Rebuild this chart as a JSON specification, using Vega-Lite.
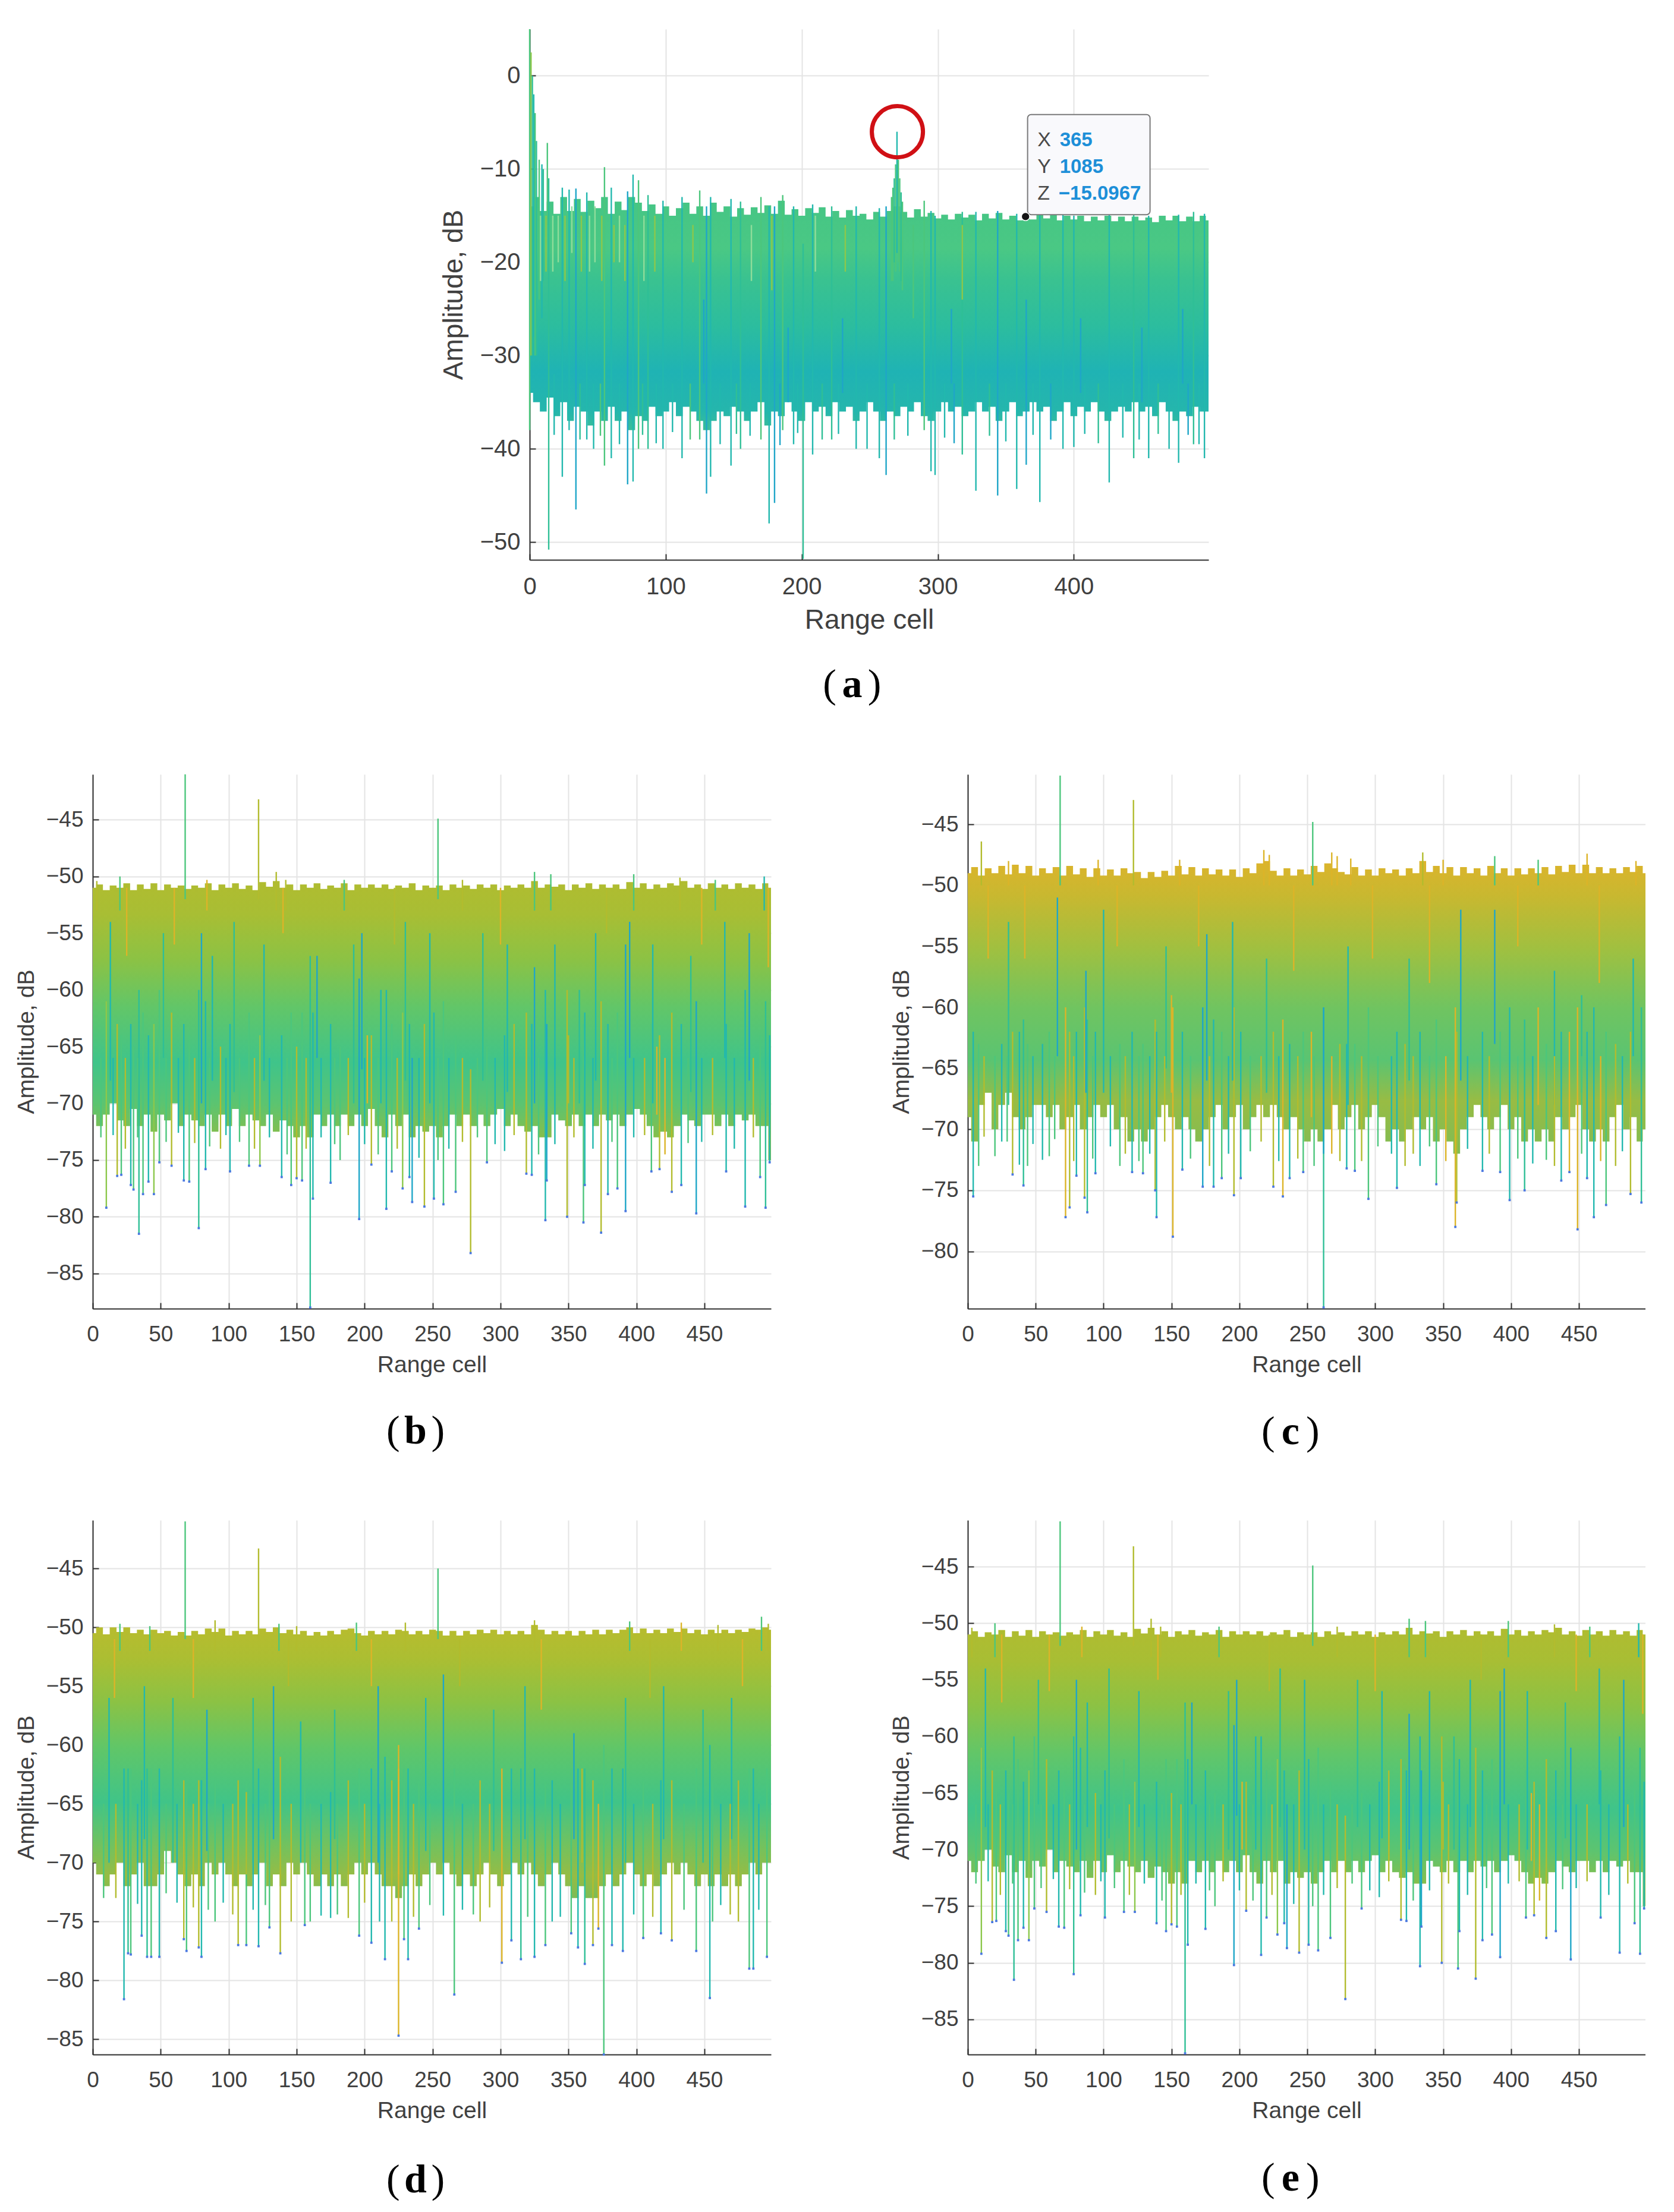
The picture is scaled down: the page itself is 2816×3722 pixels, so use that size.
{"$schema":"https://vega.github.io/schema/vega-lite/v6.json","background":"white","padding":{"left":25,"top":47,"right":0,"bottom":0},
"config":{"view":{"stroke":null},"axis":{"grid":true,"gridColor":"#e4e4e4","gridWidth":2,"domainColor":"#303030","domainWidth":2,"tickColor":"#303030","tickWidth":2,"tickSize":-10,"labelFont":"Liberation Sans","titleFont":"Liberation Sans","labelColor":"#404040","titleColor":"#404040","titleFontWeight":"normal","labelFontSize":37,"titleFontSize":39,"labelOverlap":false,"labelFlush":false},"axisX":{"labelPadding":35,"titlePadding":14},"axisY":{"labelPadding":26,"titlePadding":13}},
"datasets":{
"aE":[{"x":0,"t":-14,"b":-34},{"x":5,"t":-13,"b":-35},{"x":10,"t":-14.5,"b":-36},{"x":15,"t":-13.5,"b":-34.5},{"x":20,"t":-14.8,"b":-36.5},{"x":25,"t":-13,"b":-35},{"x":30,"t":-14.5,"b":-37},{"x":35,"t":-13.2,"b":-35.5},{"x":40,"t":-14.6,"b":-36},{"x":45,"t":-13.4,"b":-37.5},{"x":50,"t":-14.2,"b":-36},{"x":55,"t":-13,"b":-37},{"x":60,"t":-14.8,"b":-35.5},{"x":65,"t":-13.5,"b":-37},{"x":70,"t":-14.4,"b":-36},{"x":75,"t":-13,"b":-38},{"x":80,"t":-13.6,"b":-36.5},{"x":85,"t":-14.5,"b":-37},{"x":90,"t":-13.8,"b":-35.5},{"x":95,"t":-14.8,"b":-36.5},{"x":100,"t":-14,"b":-36},{"x":105,"t":-15,"b":-35},{"x":110,"t":-14.2,"b":-36.5},{"x":115,"t":-13.6,"b":-35.5},{"x":120,"t":-14.8,"b":-36},{"x":125,"t":-14,"b":-37},{"x":130,"t":-15,"b":-38},{"x":135,"t":-13.6,"b":-37},{"x":140,"t":-14.6,"b":-36},{"x":145,"t":-14,"b":-36.5},{"x":150,"t":-15.1,"b":-35.5},{"x":155,"t":-14.2,"b":-36},{"x":160,"t":-14.9,"b":-37},{"x":165,"t":-14.1,"b":-36},{"x":170,"t":-14.7,"b":-35},{"x":175,"t":-13.9,"b":-37.5},{"x":180,"t":-14.8,"b":-36},{"x":185,"t":-13.4,"b":-36.5},{"x":190,"t":-14.9,"b":-35},{"x":195,"t":-14.3,"b":-36},{"x":200,"t":-15,"b":-37},{"x":205,"t":-14.2,"b":-35},{"x":210,"t":-14.7,"b":-36},{"x":215,"t":-14.1,"b":-35.5},{"x":220,"t":-15.1,"b":-36.5},{"x":225,"t":-14.5,"b":-35},{"x":230,"t":-15.2,"b":-36},{"x":235,"t":-14.4,"b":-35.5},{"x":240,"t":-15,"b":-37},{"x":245,"t":-14.8,"b":-36},{"x":250,"t":-15.4,"b":-35},{"x":255,"t":-14.6,"b":-36},{"x":260,"t":-15.1,"b":-37},{"x":265,"t":-14.5,"b":-36},{"x":270,"t":-14,"b":-36.5},{"x":275,"t":-14.6,"b":-35.5},{"x":280,"t":-15.2,"b":-36},{"x":285,"t":-14.3,"b":-35},{"x":290,"t":-15.1,"b":-36.5},{"x":295,"t":-14.7,"b":-37},{"x":300,"t":-15.3,"b":-36},{"x":305,"t":-14.9,"b":-35},{"x":310,"t":-15.4,"b":-36},{"x":315,"t":-14.8,"b":-35.5},{"x":320,"t":-15.2,"b":-36.5},{"x":325,"t":-14.9,"b":-36},{"x":330,"t":-15.5,"b":-35},{"x":335,"t":-14.8,"b":-36},{"x":340,"t":-15.3,"b":-35.5},{"x":345,"t":-14.7,"b":-37},{"x":350,"t":-15.4,"b":-36},{"x":355,"t":-15,"b":-35},{"x":360,"t":-15.5,"b":-36.5},{"x":365,"t":-15.1,"b":-36},{"x":370,"t":-15.4,"b":-35},{"x":375,"t":-14.9,"b":-36},{"x":380,"t":-15.3,"b":-35.5},{"x":385,"t":-14.8,"b":-37},{"x":390,"t":-15.5,"b":-36},{"x":395,"t":-15,"b":-35},{"x":400,"t":-15.4,"b":-36.5},{"x":405,"t":-15,"b":-35.5},{"x":410,"t":-15.6,"b":-36},{"x":415,"t":-15.1,"b":-35},{"x":420,"t":-15.5,"b":-36},{"x":425,"t":-15,"b":-37},{"x":430,"t":-15.6,"b":-36},{"x":435,"t":-15.1,"b":-35.5},{"x":440,"t":-15.6,"b":-36},{"x":445,"t":-15.1,"b":-35},{"x":450,"t":-15.5,"b":-36},{"x":455,"t":-15.2,"b":-35.5},{"x":460,"t":-15.7,"b":-36.5},{"x":465,"t":-15,"b":-35},{"x":470,"t":-15.5,"b":-36},{"x":475,"t":-15,"b":-37},{"x":480,"t":-15.6,"b":-36},{"x":485,"t":-15.1,"b":-36.5},{"x":490,"t":-15.6,"b":-35.5},{"x":495,"t":-15,"b":-36},{"x":499,"t":-15.5,"b":-36}],
"aS":[{"x":0,"t":5,"b":-38,"c":"g"},{"x":1,"t":2.5,"b":-30,"c":"l"},{"x":2,"t":0,"b":-30,"c":"m"},{"x":3,"t":-2,"b":-28,"c":"t"},{"x":4,"t":-4,"b":-30,"c":"g"},{"x":5,"t":-7,"b":-30,"c":"m"},{"x":7,"t":-9,"b":-24,"c":"g"},{"x":9,"t":-9.5,"b":-26,"c":"t"},{"x":10,"t":-10,"b":-22,"c":"m"},{"x":13,"t":-7.2,"b":-16,"c":"g"},{"x":14,"t":-11,"b":-50.8,"c":"m"},{"x":24,"t":-12,"b":-43,"c":"t"},{"x":29,"t":-12.2,"b":-38,"c":"t"},{"x":34,"t":-12.1,"b":-46.5,"c":"b"},{"x":42,"t":-12.5,"b":-39,"c":"t"},{"x":55,"t":-9.8,"b":-41.8,"c":"g"},{"x":60,"t":-12,"b":-41,"c":"t"},{"x":72,"t":-12.4,"b":-43.8,"c":"b"},{"x":76,"t":-10.6,"b":-43.5,"c":"t"},{"x":80,"t":-11.2,"b":-40,"c":"g"},{"x":87,"t":-12.8,"b":-40,"c":"m"},{"x":98,"t":-13.4,"b":-40,"c":"t"},{"x":112,"t":-13,"b":-41,"c":"t"},{"x":125,"t":-12.3,"b":-39,"c":"g"},{"x":130,"t":-14,"b":-44.8,"c":"b"},{"x":133,"t":-13,"b":-43,"c":"t"},{"x":148,"t":-13.2,"b":-41.8,"c":"t"},{"x":155,"t":-13.5,"b":-40,"c":"m"},{"x":170,"t":-13,"b":-39,"c":"g"},{"x":176,"t":-14,"b":-48,"c":"t"},{"x":180,"t":-14,"b":-45.8,"c":"b"},{"x":186,"t":-12.8,"b":-38,"c":"g"},{"x":194,"t":-14,"b":-39.5,"c":"t"},{"x":201,"t":-18,"b":-51.8,"c":"m"},{"x":208,"t":-13.8,"b":-40.6,"c":"t"},{"x":222,"t":-14,"b":-39,"c":"m"},{"x":240,"t":-14,"b":-40,"c":"t"},{"x":257,"t":-14.2,"b":-41,"c":"t"},{"x":262,"t":-14,"b":-42.8,"c":"b"},{"x":266,"t":-13,"b":-22,"c":"g"},{"x":267,"t":-12,"b":-22,"c":"g"},{"x":268,"t":-11,"b":-20,"c":"m"},{"x":269,"t":-9.5,"b":-21,"c":"g"},{"x":270,"t":-6,"b":-19,"c":"t"},{"x":271,"t":-9,"b":-20,"c":"g"},{"x":272,"t":-11,"b":-21,"c":"g"},{"x":273,"t":-12.5,"b":-22,"c":"m"},{"x":274,"t":-13.5,"b":-23,"c":"g"},{"x":290,"t":-13.4,"b":-38,"c":"g"},{"x":295,"t":-14.5,"b":-42.4,"c":"t"},{"x":298,"t":-15,"b":-42.8,"c":"t"},{"x":318,"t":-14.6,"b":-40.6,"c":"m"},{"x":328,"t":-14.6,"b":-44.5,"c":"t"},{"x":344,"t":-14.5,"b":-45,"c":"b"},{"x":358,"t":-14.8,"b":-44.3,"c":"t"},{"x":365,"t":-24,"b":-41.7,"c":"b"},{"x":375,"t":-14.8,"b":-45.7,"c":"t"},{"x":392,"t":-14.6,"b":-40,"c":"t"},{"x":400,"t":-15,"b":-39.8,"c":"t"},{"x":426,"t":-14.9,"b":-43.6,"c":"t"},{"x":444,"t":-14.7,"b":-41,"c":"m"},{"x":455,"t":-15,"b":-41,"c":"t"},{"x":477,"t":-14.9,"b":-41.5,"c":"t"},{"x":488,"t":-14.6,"b":-39.5,"c":"m"},{"x":496,"t":-14.8,"b":-41,"c":"t"},{"x":8,"t":-15,"b":-22,"c":"p"},{"x":12,"t":-15,"b":-21,"c":"l"},{"x":17,"t":-15,"b":-21,"c":"p"},{"x":21,"t":-15,"b":-20,"c":"p"},{"x":26,"t":-15,"b":-22,"c":"l"},{"x":31,"t":-14,"b":-19,"c":"p"},{"x":38,"t":-15,"b":-21,"c":"l"},{"x":44,"t":-15,"b":-21,"c":"p"},{"x":48,"t":-14,"b":-20,"c":"p"},{"x":53,"t":-15,"b":-22,"c":"l"},{"x":62,"t":-16,"b":-20,"c":"l"},{"x":66,"t":-15,"b":-20,"c":"p"},{"x":70,"t":-16,"b":-22,"c":"l"},{"x":84,"t":-15,"b":-22,"c":"p"},{"x":92,"t":-15,"b":-21,"c":"l"},{"x":120,"t":-16,"b":-20,"c":"l"},{"x":163,"t":-16,"b":-22,"c":"p"},{"x":178,"t":-15,"b":-23,"c":"l"},{"x":210,"t":-15,"b":-21,"c":"p"},{"x":232,"t":-16,"b":-21,"c":"l"},{"x":282,"t":-16,"b":-26,"c":"g"},{"x":318,"t":-16,"b":-24,"c":"l"},{"x":128,"t":-24,"b":-33,"c":"b"},{"x":190,"t":-27,"b":-35,"c":"b"},{"x":230,"t":-26,"b":-34,"c":"b"},{"x":310,"t":-25,"b":-33,"c":"b"},{"x":365,"t":-28,"b":-36,"c":"b"},{"x":405,"t":-26,"b":-34,"c":"b"},{"x":450,"t":-27,"b":-35,"c":"b"},{"x":480,"t":-25,"b":-33,"c":"b"},{"x":18,"t":-32,"b":-38.5,"c":"t"},{"x":37,"t":-33,"b":-39,"c":"m"},{"x":47,"t":-33,"b":-40,"c":"t"},{"x":52,"t":-33,"b":-38.6,"c":"g"},{"x":66,"t":-33,"b":-39.5,"c":"t"},{"x":83,"t":-33,"b":-38.5,"c":"m"},{"x":93,"t":-33,"b":-39.4,"c":"t"},{"x":105,"t":-33,"b":-38.2,"c":"t"},{"x":118,"t":-33,"b":-39,"c":"g"},{"x":140,"t":-33,"b":-39.5,"c":"t"},{"x":152,"t":-33,"b":-38.4,"c":"m"},{"x":162,"t":-33,"b":-38.6,"c":"t"},{"x":184,"t":-33,"b":-39.6,"c":"b"},{"x":197,"t":-33,"b":-38.3,"c":"t"},{"x":215,"t":-33,"b":-39,"c":"m"},{"x":227,"t":-33,"b":-38.4,"c":"t"},{"x":248,"t":-33,"b":-40,"c":"t"},{"x":268,"t":-33,"b":-39,"c":"m"},{"x":278,"t":-33,"b":-38.6,"c":"t"},{"x":305,"t":-33,"b":-38.8,"c":"t"},{"x":312,"t":-33,"b":-39.4,"c":"b"},{"x":338,"t":-33,"b":-38.6,"c":"m"},{"x":350,"t":-33,"b":-39.2,"c":"t"},{"x":370,"t":-33,"b":-38.5,"c":"t"},{"x":383,"t":-33,"b":-39,"c":"b"},{"x":408,"t":-33,"b":-38.4,"c":"t"},{"x":418,"t":-33,"b":-39.4,"c":"m"},{"x":436,"t":-33,"b":-38.8,"c":"t"},{"x":448,"t":-33,"b":-39,"c":"t"},{"x":462,"t":-33,"b":-38.4,"c":"m"},{"x":470,"t":-33,"b":-40,"c":"t"},{"x":484,"t":-33,"b":-38.5,"c":"b"},{"x":492,"t":-33,"b":-39.5,"c":"t"}],
"bE":[{"x":0,"t":-51,"b":-71},{"x":5,"t":-50.7,"b":-72},{"x":10,"t":-51.2,"b":-71},{"x":15,"t":-50.8,"b":-70},{"x":20,"t":-51,"b":-71.5},{"x":25,"t":-50.6,"b":-72},{"x":30,"t":-51.2,"b":-70.5},{"x":35,"t":-50.7,"b":-72},{"x":40,"t":-51.1,"b":-71},{"x":45,"t":-50.6,"b":-72.5},{"x":50,"t":-51.2,"b":-71},{"x":55,"t":-50.7,"b":-71.5},{"x":60,"t":-51,"b":-70},{"x":65,"t":-50.8,"b":-72},{"x":70,"t":-51.1,"b":-71},{"x":75,"t":-50.8,"b":-71.5},{"x":80,"t":-51,"b":-72},{"x":85,"t":-50.6,"b":-71},{"x":90,"t":-51.2,"b":-72.5},{"x":95,"t":-50.7,"b":-71},{"x":100,"t":-51,"b":-72},{"x":105,"t":-50.6,"b":-70.5},{"x":110,"t":-51.1,"b":-72},{"x":115,"t":-50.8,"b":-71},{"x":120,"t":-51.2,"b":-71.5},{"x":125,"t":-50.5,"b":-72},{"x":130,"t":-50.9,"b":-71},{"x":135,"t":-50.4,"b":-72.5},{"x":140,"t":-51,"b":-71.5},{"x":145,"t":-50.7,"b":-72},{"x":150,"t":-51.2,"b":-73},{"x":155,"t":-50.7,"b":-72},{"x":160,"t":-51,"b":-73},{"x":165,"t":-50.6,"b":-71},{"x":170,"t":-51.1,"b":-72},{"x":175,"t":-50.8,"b":-71},{"x":180,"t":-51,"b":-72},{"x":185,"t":-50.6,"b":-71},{"x":190,"t":-51.2,"b":-72},{"x":195,"t":-50.7,"b":-71},{"x":200,"t":-51,"b":-72},{"x":205,"t":-50.7,"b":-70.5},{"x":210,"t":-51,"b":-72},{"x":215,"t":-50.7,"b":-73},{"x":220,"t":-51.1,"b":-71},{"x":225,"t":-50.8,"b":-72},{"x":230,"t":-51,"b":-71},{"x":235,"t":-50.6,"b":-73},{"x":240,"t":-51.2,"b":-72},{"x":245,"t":-50.8,"b":-72.5},{"x":250,"t":-51,"b":-72},{"x":255,"t":-50.8,"b":-73},{"x":260,"t":-51.2,"b":-72},{"x":265,"t":-50.7,"b":-71},{"x":270,"t":-51,"b":-72},{"x":275,"t":-50.8,"b":-71},{"x":280,"t":-51.1,"b":-72},{"x":285,"t":-50.7,"b":-71},{"x":290,"t":-51,"b":-72},{"x":295,"t":-50.7,"b":-71},{"x":300,"t":-51.2,"b":-70.5},{"x":305,"t":-50.8,"b":-72},{"x":310,"t":-51,"b":-71},{"x":315,"t":-50.7,"b":-72},{"x":320,"t":-51,"b":-72.5},{"x":325,"t":-50.4,"b":-72},{"x":330,"t":-51,"b":-73},{"x":335,"t":-50.7,"b":-73},{"x":340,"t":-50.9,"b":-71},{"x":345,"t":-50.7,"b":-71.5},{"x":350,"t":-51.2,"b":-72},{"x":355,"t":-50.7,"b":-71},{"x":360,"t":-51,"b":-72},{"x":365,"t":-50.6,"b":-71},{"x":370,"t":-51.1,"b":-72},{"x":375,"t":-50.7,"b":-71},{"x":380,"t":-51,"b":-71.5},{"x":385,"t":-50.7,"b":-71},{"x":390,"t":-51.1,"b":-72},{"x":395,"t":-50.5,"b":-71},{"x":400,"t":-51,"b":-70.5},{"x":405,"t":-50.6,"b":-71},{"x":410,"t":-51.1,"b":-72},{"x":415,"t":-50.7,"b":-73},{"x":420,"t":-51,"b":-72.5},{"x":425,"t":-50.6,"b":-73},{"x":430,"t":-50.8,"b":-72},{"x":435,"t":-50.4,"b":-71},{"x":440,"t":-51,"b":-71.5},{"x":445,"t":-50.7,"b":-72},{"x":450,"t":-51.1,"b":-71},{"x":455,"t":-50.6,"b":-71},{"x":460,"t":-51,"b":-72},{"x":465,"t":-50.7,"b":-71},{"x":470,"t":-51.1,"b":-72},{"x":475,"t":-50.6,"b":-71},{"x":480,"t":-51,"b":-71.5},{"x":485,"t":-50.7,"b":-71},{"x":490,"t":-51.1,"b":-72},{"x":495,"t":-50.6,"b":-72},{"x":499,"t":-51,"b":-75}],
"bS":[{"x":68,"t":-41,"b":-52,"c":"g"},{"x":122,"t":-43.2,"b":-52,"c":"o"},{"x":254,"t":-44.9,"b":-52,"c":"g"},{"x":135,"t":-49.6,"b":-53,"c":"o"},{"x":325,"t":-49.6,"b":-53,"c":"g"},{"x":337,"t":-49.8,"b":-53,"c":"g"},{"x":398,"t":-49.8,"b":-53,"c":"g"},{"x":494,"t":-50,"b":-53,"c":"t"},{"x":20,"t":-50,"b":-53,"c":"g"},{"x":432,"t":-50.1,"b":-53,"c":"o"},{"x":3,"t":-50.4,"b":-53,"c":"o"},{"x":84,"t":-50.3,"b":-53,"c":"y"},{"x":142,"t":-50.3,"b":-53,"c":"o"},{"x":185,"t":-50.3,"b":-53,"c":"g"},{"x":272,"t":-50.3,"b":-53,"c":"o"},{"x":458,"t":-50.3,"b":-53,"c":"g"},{"x":10,"t":-61,"b":-79.2,"c":"l"},{"x":18,"t":-63,"b":-76.4,"c":"o"},{"x":21,"t":-64,"b":-76.3,"c":"g"},{"x":28,"t":-63,"b":-77.2,"c":"t"},{"x":30,"t":-65,"b":-77.6,"c":"g"},{"x":34,"t":-60,"b":-81.5,"c":"m"},{"x":37,"t":-62,"b":-78,"c":"g"},{"x":41,"t":-64,"b":-76.9,"c":"t"},{"x":45,"t":-63,"b":-78,"c":"l"},{"x":49,"t":-60,"b":-75.2,"c":"g"},{"x":58,"t":-62,"b":-75.5,"c":"o"},{"x":67,"t":-63,"b":-76.8,"c":"t"},{"x":71,"t":-64,"b":-76.9,"c":"g"},{"x":78,"t":-60,"b":-81,"c":"m"},{"x":83,"t":-61,"b":-75.8,"c":"t"},{"x":94,"t":-65,"b":-74,"c":"o"},{"x":101,"t":-63,"b":-76,"c":"t"},{"x":115,"t":-62,"b":-75.5,"c":"g"},{"x":123,"t":-64,"b":-75.5,"c":"l"},{"x":139,"t":-64,"b":-76.5,"c":"t"},{"x":146,"t":-62,"b":-77.2,"c":"g"},{"x":150,"t":-65,"b":-76.6,"c":"o"},{"x":154,"t":-62,"b":-76.8,"c":"g"},{"x":160,"t":-57,"b":-88,"c":"m"},{"x":162,"t":-62,"b":-78.4,"c":"t"},{"x":175,"t":-63,"b":-77,"c":"t"},{"x":182,"t":-65,"b":-75,"c":"g"},{"x":196,"t":-59,"b":-80.2,"c":"b"},{"x":205,"t":-64,"b":-75.4,"c":"o"},{"x":216,"t":-60,"b":-79.3,"c":"t"},{"x":220,"t":-63,"b":-76,"c":"g"},{"x":228,"t":-62,"b":-77.5,"c":"l"},{"x":233,"t":-63,"b":-76.5,"c":"t"},{"x":235,"t":-66,"b":-78.7,"c":"b"},{"x":244,"t":-63,"b":-79.1,"c":"o"},{"x":251,"t":-62,"b":-78.4,"c":"t"},{"x":258,"t":-61,"b":-78.9,"c":"g"},{"x":267,"t":-64,"b":-77.8,"c":"g"},{"x":278,"t":-67,"b":-83.2,"c":"o"},{"x":290,"t":-65,"b":-75.2,"c":"g"},{"x":303,"t":-64,"b":-74.2,"c":"t"},{"x":319,"t":-62,"b":-76.2,"c":"o"},{"x":323,"t":-63,"b":-76.3,"c":"t"},{"x":333,"t":-60,"b":-80.3,"c":"t"},{"x":334,"t":-63,"b":-76.8,"c":"b"},{"x":349,"t":-60,"b":-80,"c":"o"},{"x":361,"t":-63,"b":-80.5,"c":"g"},{"x":362,"t":-62,"b":-77.2,"c":"t"},{"x":374,"t":-61,"b":-81.4,"c":"o"},{"x":379,"t":-63,"b":-78,"c":"t"},{"x":386,"t":-62,"b":-77.5,"c":"g"},{"x":392,"t":-56,"b":-79.5,"c":"b"},{"x":411,"t":-63,"b":-76,"c":"g"},{"x":417,"t":-64,"b":-75.8,"c":"o"},{"x":426,"t":-62,"b":-77.8,"c":"o"},{"x":433,"t":-63,"b":-77.2,"c":"t"},{"x":444,"t":-61,"b":-79.7,"c":"b"},{"x":466,"t":-63,"b":-76,"c":"t"},{"x":480,"t":-60,"b":-79.1,"c":"t"},{"x":491,"t":-64,"b":-76.5,"c":"g"},{"x":495,"t":-61,"b":-79.2,"c":"m"},{"x":498,"t":-64,"b":-75.2,"c":"t"},{"x":13,"t":-54,"b":-68,"c":"t"},{"x":52,"t":-55,"b":-66,"c":"m"},{"x":80,"t":-55,"b":-70,"c":"b"},{"x":88,"t":-57,"b":-68,"c":"t"},{"x":104,"t":-54,"b":-69,"c":"m"},{"x":126,"t":-56,"b":-68,"c":"t"},{"x":165,"t":-57,"b":-66,"c":"b"},{"x":192,"t":-56,"b":-70,"c":"m"},{"x":198,"t":-55,"b":-67,"c":"b"},{"x":212,"t":-60,"b":-70,"c":"t"},{"x":230,"t":-54,"b":-68,"c":"m"},{"x":248,"t":-55,"b":-70,"c":"t"},{"x":287,"t":-55,"b":-68,"c":"m"},{"x":305,"t":-56,"b":-69,"c":"t"},{"x":325,"t":-58,"b":-70,"c":"b"},{"x":340,"t":-56,"b":-67,"c":"t"},{"x":358,"t":-60,"b":-70,"c":"m"},{"x":370,"t":-55,"b":-68,"c":"t"},{"x":395,"t":-54,"b":-66,"c":"b"},{"x":412,"t":-56,"b":-70,"c":"t"},{"x":440,"t":-57,"b":-69,"c":"m"},{"x":465,"t":-54,"b":-66,"c":"t"},{"x":483,"t":-55,"b":-68,"c":"b"},{"x":25,"t":-51,"b":-57,"c":"y"},{"x":60,"t":-51,"b":-56,"c":"y"},{"x":140,"t":-51,"b":-55,"c":"y"},{"x":222,"t":-51,"b":-56,"c":"o"},{"x":300,"t":-51,"b":-56,"c":"y"},{"x":378,"t":-51,"b":-55,"c":"o"},{"x":448,"t":-51,"b":-56,"c":"y"},{"x":497,"t":-51,"b":-58,"c":"y"},{"x":202,"t":-64,"b":-70,"c":"y"},{"x":310,"t":-63,"b":-71,"c":"o"},{"x":350,"t":-64,"b":-70,"c":"o"},{"x":415,"t":-65,"b":-71,"c":"y"},{"x":6,"t":-66,"b":-73,"c":"g"},{"x":15,"t":-66,"b":-72.8,"c":"t"},{"x":24,"t":-66,"b":-74,"c":"o"},{"x":33,"t":-66,"b":-73,"c":"g"},{"x":54,"t":-66,"b":-73.4,"c":"g"},{"x":63,"t":-66,"b":-72.6,"c":"t"},{"x":75,"t":-66,"b":-73.5,"c":"o"},{"x":86,"t":-66,"b":-73.8,"c":"g"},{"x":98,"t":-66,"b":-72.8,"c":"t"},{"x":108,"t":-66,"b":-73.4,"c":"g"},{"x":119,"t":-66,"b":-74,"c":"o"},{"x":130,"t":-66,"b":-73,"c":"t"},{"x":143,"t":-66,"b":-74.5,"c":"g"},{"x":157,"t":-66,"b":-74,"c":"o"},{"x":168,"t":-66,"b":-73,"c":"t"},{"x":178,"t":-66,"b":-73.6,"c":"g"},{"x":188,"t":-66,"b":-72.8,"c":"o"},{"x":200,"t":-66,"b":-73.6,"c":"t"},{"x":210,"t":-66,"b":-74.5,"c":"g"},{"x":224,"t":-66,"b":-74,"c":"o"},{"x":240,"t":-66,"b":-74.8,"c":"t"},{"x":254,"t":-66,"b":-75,"c":"g"},{"x":262,"t":-66,"b":-74,"c":"t"},{"x":272,"t":-66,"b":-73.4,"c":"o"},{"x":283,"t":-66,"b":-73,"c":"g"},{"x":296,"t":-66,"b":-73.6,"c":"t"},{"x":310,"t":-66,"b":-72.8,"c":"o"},{"x":328,"t":-66,"b":-74.5,"c":"g"},{"x":340,"t":-66,"b":-73.6,"c":"t"},{"x":354,"t":-66,"b":-73,"c":"o"},{"x":368,"t":-66,"b":-74,"c":"t"},{"x":382,"t":-66,"b":-73.4,"c":"g"},{"x":398,"t":-66,"b":-73,"c":"t"},{"x":406,"t":-66,"b":-72.8,"c":"o"},{"x":421,"t":-66,"b":-74.5,"c":"y"},{"x":438,"t":-66,"b":-73.5,"c":"g"},{"x":448,"t":-66,"b":-73.4,"c":"t"},{"x":456,"t":-66,"b":-72.8,"c":"o"},{"x":472,"t":-66,"b":-74,"c":"t"},{"x":486,"t":-66,"b":-73,"c":"o"}],
"cE":[{"x":0,"t":-49,"b":-69},{"x":5,"t":-48.5,"b":-71},{"x":10,"t":-49.2,"b":-68},{"x":15,"t":-48.6,"b":-67},{"x":20,"t":-49,"b":-70},{"x":25,"t":-48.4,"b":-68},{"x":30,"t":-49.1,"b":-67},{"x":35,"t":-48.3,"b":-69},{"x":40,"t":-49,"b":-70},{"x":45,"t":-48.4,"b":-69},{"x":50,"t":-49.2,"b":-68},{"x":55,"t":-48.6,"b":-68},{"x":60,"t":-49,"b":-69},{"x":65,"t":-48.5,"b":-68},{"x":70,"t":-49.2,"b":-70},{"x":75,"t":-48.4,"b":-69},{"x":80,"t":-49.1,"b":-68},{"x":85,"t":-48.6,"b":-70},{"x":90,"t":-49.3,"b":-69},{"x":95,"t":-48.6,"b":-68},{"x":100,"t":-49.2,"b":-69},{"x":105,"t":-48.7,"b":-68},{"x":110,"t":-49.2,"b":-70},{"x":115,"t":-48.6,"b":-69},{"x":120,"t":-49,"b":-71},{"x":125,"t":-48.9,"b":-70},{"x":130,"t":-49.4,"b":-71},{"x":135,"t":-48.9,"b":-70},{"x":140,"t":-49.3,"b":-69},{"x":145,"t":-48.8,"b":-68},{"x":150,"t":-49.2,"b":-69},{"x":155,"t":-48.4,"b":-70},{"x":160,"t":-49.1,"b":-69},{"x":165,"t":-48.5,"b":-70},{"x":170,"t":-49.2,"b":-71},{"x":175,"t":-48.6,"b":-70},{"x":180,"t":-49.1,"b":-69},{"x":185,"t":-48.7,"b":-68},{"x":190,"t":-49.2,"b":-70},{"x":195,"t":-48.7,"b":-69},{"x":200,"t":-49.3,"b":-68},{"x":205,"t":-48.6,"b":-70},{"x":210,"t":-49,"b":-69},{"x":215,"t":-48.2,"b":-68},{"x":220,"t":-48,"b":-69},{"x":225,"t":-48.8,"b":-68},{"x":230,"t":-49.2,"b":-69},{"x":235,"t":-48.6,"b":-70},{"x":240,"t":-49.2,"b":-69},{"x":245,"t":-48.7,"b":-70},{"x":250,"t":-49.1,"b":-71},{"x":255,"t":-48.4,"b":-70},{"x":260,"t":-48.9,"b":-71},{"x":265,"t":-48.2,"b":-70},{"x":270,"t":-48.6,"b":-68},{"x":275,"t":-48.9,"b":-70},{"x":280,"t":-49.1,"b":-69},{"x":285,"t":-48.5,"b":-68},{"x":290,"t":-49.2,"b":-70},{"x":295,"t":-48.7,"b":-69},{"x":300,"t":-49.2,"b":-68},{"x":305,"t":-48.6,"b":-69},{"x":310,"t":-49,"b":-71},{"x":315,"t":-48.7,"b":-70},{"x":320,"t":-49.2,"b":-71},{"x":325,"t":-48.6,"b":-70},{"x":330,"t":-49,"b":-69},{"x":335,"t":-48,"b":-70},{"x":340,"t":-48.9,"b":-69},{"x":345,"t":-48.4,"b":-71},{"x":350,"t":-49,"b":-70},{"x":355,"t":-48.5,"b":-71},{"x":360,"t":-49.2,"b":-72},{"x":365,"t":-48.5,"b":-70},{"x":370,"t":-49,"b":-69},{"x":375,"t":-48.6,"b":-68},{"x":380,"t":-49.2,"b":-69},{"x":385,"t":-48.4,"b":-70},{"x":390,"t":-49,"b":-69},{"x":395,"t":-48.6,"b":-68},{"x":400,"t":-49.2,"b":-70},{"x":405,"t":-48.6,"b":-69},{"x":410,"t":-49.1,"b":-71},{"x":415,"t":-48.6,"b":-70},{"x":420,"t":-49,"b":-71},{"x":425,"t":-48.5,"b":-70},{"x":430,"t":-49.1,"b":-71},{"x":435,"t":-48.4,"b":-69},{"x":440,"t":-48.9,"b":-70},{"x":445,"t":-48.3,"b":-69},{"x":450,"t":-49,"b":-68},{"x":455,"t":-48.3,"b":-70},{"x":460,"t":-49,"b":-71},{"x":465,"t":-48.5,"b":-70},{"x":470,"t":-49,"b":-71},{"x":475,"t":-48.6,"b":-69},{"x":480,"t":-49,"b":-68},{"x":485,"t":-48.5,"b":-70},{"x":490,"t":-48.9,"b":-69},{"x":495,"t":-48.4,"b":-71},{"x":499,"t":-49,"b":-70}],
"cS":[{"x":68,"t":-41,"b":-50,"c":"g"},{"x":122,"t":-43,"b":-50,"c":"o"},{"x":254,"t":-44.8,"b":-50,"c":"g"},{"x":10,"t":-46.4,"b":-50,"c":"o"},{"x":218,"t":-47.1,"b":-50,"c":"y"},{"x":268,"t":-47.3,"b":-50,"c":"y"},{"x":335,"t":-47.3,"b":-50,"c":"o"},{"x":272,"t":-47.6,"b":-50,"c":"y"},{"x":388,"t":-47.6,"b":-50,"c":"g"},{"x":456,"t":-47.4,"b":-50,"c":"y"},{"x":30,"t":-48,"b":-50,"c":"y"},{"x":96,"t":-47.9,"b":-50,"c":"y"},{"x":156,"t":-47.9,"b":-50,"c":"y"},{"x":222,"t":-47.5,"b":-50,"c":"y"},{"x":282,"t":-47.8,"b":-50,"c":"y"},{"x":350,"t":-47.9,"b":-50,"c":"y"},{"x":420,"t":-47.9,"b":-50,"c":"g"},{"x":492,"t":-48,"b":-50,"c":"y"},{"x":4,"t":-62,"b":-75.5,"c":"t"},{"x":8,"t":-63,"b":-73,"c":"g"},{"x":20,"t":-64,"b":-72.2,"c":"g"},{"x":25,"t":-63,"b":-71,"c":"t"},{"x":33,"t":-62,"b":-73.7,"c":"o"},{"x":38,"t":-62,"b":-72.9,"c":"t"},{"x":41,"t":-61,"b":-74.6,"c":"m"},{"x":44,"t":-63,"b":-73,"c":"g"},{"x":55,"t":-63,"b":-72.5,"c":"t"},{"x":60,"t":-62,"b":-72.2,"c":"g"},{"x":72,"t":-60,"b":-77.2,"c":"y"},{"x":75,"t":-62,"b":-76.4,"c":"o"},{"x":80,"t":-62,"b":-73.8,"c":"t"},{"x":86,"t":-60,"b":-75.6,"c":"o"},{"x":88,"t":-61,"b":-76.8,"c":"m"},{"x":94,"t":-62,"b":-73.6,"c":"t"},{"x":112,"t":-63,"b":-73,"c":"g"},{"x":121,"t":-62,"b":-73.5,"c":"t"},{"x":129,"t":-63,"b":-73.6,"c":"g"},{"x":138,"t":-61,"b":-75,"c":"o"},{"x":139,"t":-62,"b":-77.2,"c":"t"},{"x":151,"t":-60,"b":-78.8,"c":"y"},{"x":158,"t":-62,"b":-73.3,"c":"t"},{"x":173,"t":-60,"b":-74.7,"c":"b"},{"x":181,"t":-61,"b":-74.7,"c":"t"},{"x":187,"t":-62,"b":-74,"c":"g"},{"x":196,"t":-60,"b":-75.4,"c":"o"},{"x":201,"t":-62,"b":-74,"c":"t"},{"x":225,"t":-62,"b":-74.7,"c":"o"},{"x":232,"t":-61,"b":-75.5,"c":"y"},{"x":237,"t":-63,"b":-74,"c":"t"},{"x":247,"t":-62,"b":-73.5,"c":"g"},{"x":262,"t":-60,"b":-84.6,"c":"m"},{"x":274,"t":-63,"b":-72.6,"c":"o"},{"x":279,"t":-63,"b":-73.2,"c":"t"},{"x":285,"t":-63,"b":-73.4,"c":"g"},{"x":295,"t":-60,"b":-75.7,"c":"g"},{"x":316,"t":-62,"b":-74.8,"c":"t"},{"x":322,"t":-63,"b":-73,"c":"o"},{"x":333,"t":-62,"b":-73,"c":"t"},{"x":345,"t":-61,"b":-74.5,"c":"g"},{"x":359,"t":-60,"b":-78,"c":"y"},{"x":360,"t":-62,"b":-76,"c":"o"},{"x":379,"t":-62,"b":-73.4,"c":"t"},{"x":392,"t":-62,"b":-73.5,"c":"g"},{"x":399,"t":-60,"b":-75.8,"c":"t"},{"x":410,"t":-61,"b":-75,"c":"m"},{"x":426,"t":-63,"b":-72.5,"c":"g"},{"x":437,"t":-62,"b":-74.2,"c":"t"},{"x":443,"t":-62,"b":-73.5,"c":"y"},{"x":449,"t":-60,"b":-78.2,"c":"y"},{"x":456,"t":-62,"b":-74,"c":"t"},{"x":461,"t":-60,"b":-77.2,"c":"t"},{"x":470,"t":-62,"b":-76.2,"c":"g"},{"x":477,"t":-63,"b":-73,"c":"o"},{"x":488,"t":-62,"b":-75.3,"c":"o"},{"x":496,"t":-60,"b":-76,"c":"m"},{"x":66,"t":-51,"b":-64,"c":"b"},{"x":87,"t":-57,"b":-67,"c":"b"},{"x":100,"t":-52,"b":-67,"c":"t"},{"x":176,"t":-54,"b":-66,"c":"b"},{"x":195,"t":-53,"b":-66,"c":"t"},{"x":220,"t":-56,"b":-67,"c":"m"},{"x":262,"t":-60,"b":-72,"c":"b"},{"x":280,"t":-55,"b":-68,"c":"t"},{"x":325,"t":-56,"b":-66,"c":"m"},{"x":363,"t":-52,"b":-66,"c":"b"},{"x":388,"t":-52,"b":-63,"c":"b"},{"x":432,"t":-57,"b":-68,"c":"t"},{"x":452,"t":-59,"b":-67,"c":"m"},{"x":490,"t":-56,"b":-64,"c":"t"},{"x":30,"t":-53,"b":-68,"c":"m"},{"x":146,"t":-55,"b":-65,"c":"m"},{"x":15,"t":-50,"b":-56,"c":"y"},{"x":42,"t":-50,"b":-56,"c":"y"},{"x":110,"t":-50,"b":-55,"c":"y"},{"x":170,"t":-50,"b":-55,"c":"y"},{"x":240,"t":-50,"b":-57,"c":"y"},{"x":298,"t":-50,"b":-56,"c":"y"},{"x":340,"t":-50,"b":-58,"c":"y"},{"x":405,"t":-50,"b":-55,"c":"y"},{"x":465,"t":-50,"b":-58,"c":"y"},{"x":150,"t":-59,"b":-67,"c":"y"},{"x":253,"t":-62,"b":-69,"c":"y"},{"x":420,"t":-60,"b":-68,"c":"y"},{"x":12,"t":-64,"b":-70.6,"c":"o"},{"x":29,"t":-64,"b":-71,"c":"g"},{"x":48,"t":-64,"b":-71.2,"c":"t"},{"x":64,"t":-64,"b":-70.8,"c":"g"},{"x":78,"t":-64,"b":-72.6,"c":"o"},{"x":92,"t":-64,"b":-72.4,"c":"g"},{"x":105,"t":-64,"b":-71.4,"c":"t"},{"x":116,"t":-64,"b":-72,"c":"o"},{"x":126,"t":-64,"b":-72.6,"c":"g"},{"x":134,"t":-64,"b":-72,"c":"t"},{"x":145,"t":-64,"b":-71,"c":"o"},{"x":164,"t":-64,"b":-72.4,"c":"g"},{"x":178,"t":-64,"b":-73,"c":"o"},{"x":192,"t":-64,"b":-72,"c":"t"},{"x":208,"t":-64,"b":-71.8,"c":"g"},{"x":216,"t":-64,"b":-71,"c":"o"},{"x":229,"t":-64,"b":-72.6,"c":"t"},{"x":243,"t":-64,"b":-72.4,"c":"o"},{"x":255,"t":-64,"b":-73,"c":"g"},{"x":268,"t":-64,"b":-72,"c":"y"},{"x":290,"t":-64,"b":-72.6,"c":"o"},{"x":302,"t":-64,"b":-71.4,"c":"g"},{"x":312,"t":-64,"b":-72,"c":"t"},{"x":328,"t":-64,"b":-72,"c":"o"},{"x":340,"t":-64,"b":-71.4,"c":"g"},{"x":352,"t":-64,"b":-72.6,"c":"y"},{"x":368,"t":-64,"b":-71.6,"c":"t"},{"x":384,"t":-64,"b":-72,"c":"o"},{"x":405,"t":-64,"b":-72.4,"c":"g"},{"x":416,"t":-64,"b":-72.8,"c":"t"},{"x":432,"t":-64,"b":-73,"c":"o"},{"x":452,"t":-64,"b":-72,"c":"g"},{"x":466,"t":-64,"b":-72.6,"c":"y"},{"x":482,"t":-64,"b":-71.8,"c":"t"}],
"dE":[{"x":0,"t":-50.5,"b":-70},{"x":5,"t":-50,"b":-71},{"x":10,"t":-50.6,"b":-72},{"x":15,"t":-50,"b":-71},{"x":20,"t":-50.4,"b":-70},{"x":25,"t":-50,"b":-72},{"x":30,"t":-50.5,"b":-71},{"x":35,"t":-50.2,"b":-70},{"x":40,"t":-50.6,"b":-72},{"x":45,"t":-50.2,"b":-72},{"x":50,"t":-50.5,"b":-71},{"x":55,"t":-50.3,"b":-69},{"x":60,"t":-50.7,"b":-70},{"x":65,"t":-50.4,"b":-71},{"x":70,"t":-50.7,"b":-72},{"x":75,"t":-50.3,"b":-71},{"x":80,"t":-50.6,"b":-72},{"x":85,"t":-50.1,"b":-70},{"x":90,"t":-50.4,"b":-71},{"x":95,"t":-50.1,"b":-70},{"x":100,"t":-50.7,"b":-71},{"x":105,"t":-50.3,"b":-72},{"x":110,"t":-50.6,"b":-71},{"x":115,"t":-50.3,"b":-72},{"x":120,"t":-50.6,"b":-71},{"x":125,"t":-50.1,"b":-70},{"x":130,"t":-50.4,"b":-72},{"x":135,"t":-50,"b":-71},{"x":140,"t":-50.5,"b":-72},{"x":145,"t":-50.2,"b":-70},{"x":150,"t":-50.6,"b":-71},{"x":155,"t":-50.3,"b":-70},{"x":160,"t":-50.7,"b":-71},{"x":165,"t":-50.4,"b":-72},{"x":170,"t":-50.7,"b":-71},{"x":175,"t":-50.3,"b":-72},{"x":180,"t":-50.6,"b":-71},{"x":185,"t":-50.2,"b":-72},{"x":190,"t":-50.1,"b":-71},{"x":195,"t":-50.5,"b":-70},{"x":200,"t":-50.7,"b":-71},{"x":205,"t":-50.3,"b":-70},{"x":210,"t":-50.6,"b":-71},{"x":215,"t":-50.3,"b":-72},{"x":220,"t":-50.6,"b":-72},{"x":225,"t":-50.2,"b":-73},{"x":230,"t":-50.3,"b":-72},{"x":235,"t":-50.6,"b":-71},{"x":240,"t":-50.3,"b":-72},{"x":245,"t":-50.6,"b":-71},{"x":250,"t":-50.2,"b":-70},{"x":255,"t":-50.3,"b":-71},{"x":260,"t":-50.7,"b":-70},{"x":265,"t":-50.3,"b":-71},{"x":270,"t":-50.7,"b":-72},{"x":275,"t":-50.3,"b":-71},{"x":280,"t":-50.6,"b":-72},{"x":285,"t":-50.2,"b":-71},{"x":290,"t":-50.5,"b":-70},{"x":295,"t":-50.2,"b":-71},{"x":300,"t":-50.6,"b":-72},{"x":305,"t":-50.3,"b":-71},{"x":310,"t":-50.6,"b":-70},{"x":315,"t":-50.3,"b":-71},{"x":320,"t":-50.6,"b":-70},{"x":325,"t":-49.8,"b":-71},{"x":330,"t":-50.2,"b":-72},{"x":335,"t":-50.6,"b":-71},{"x":340,"t":-50.3,"b":-70},{"x":345,"t":-50.6,"b":-71},{"x":350,"t":-50.3,"b":-72},{"x":355,"t":-50.7,"b":-73},{"x":360,"t":-50.3,"b":-72},{"x":365,"t":-50.6,"b":-73},{"x":370,"t":-50.2,"b":-73},{"x":375,"t":-50.6,"b":-72},{"x":380,"t":-50.2,"b":-71},{"x":385,"t":-50.5,"b":-72},{"x":390,"t":-50.2,"b":-71},{"x":395,"t":-50,"b":-70},{"x":400,"t":-50.5,"b":-71},{"x":405,"t":-50.1,"b":-72},{"x":410,"t":-50.5,"b":-71},{"x":415,"t":-50.2,"b":-72},{"x":420,"t":-50.5,"b":-71},{"x":425,"t":-50.1,"b":-70},{"x":430,"t":-50.4,"b":-71},{"x":435,"t":-50.1,"b":-70},{"x":440,"t":-50.5,"b":-71},{"x":445,"t":-50.2,"b":-72},{"x":450,"t":-50.6,"b":-71},{"x":455,"t":-50.2,"b":-72},{"x":460,"t":-50.5,"b":-71},{"x":465,"t":-50.2,"b":-72},{"x":470,"t":-50.5,"b":-71},{"x":475,"t":-50.2,"b":-72},{"x":480,"t":-50.4,"b":-71},{"x":485,"t":-50.1,"b":-70},{"x":490,"t":-50.2,"b":-71},{"x":495,"t":-50,"b":-70},{"x":499,"t":-50.2,"b":-70}],
"dS":[{"x":68,"t":-41,"b":-51,"c":"g"},{"x":122,"t":-43.3,"b":-51,"c":"o"},{"x":254,"t":-45,"b":-51,"c":"g"},{"x":325,"t":-49.4,"b":-52,"c":"o"},{"x":90,"t":-49.4,"b":-52,"c":"o"},{"x":194,"t":-49.6,"b":-52,"c":"g"},{"x":230,"t":-49.6,"b":-52,"c":"o"},{"x":395,"t":-49.5,"b":-52,"c":"g"},{"x":492,"t":-49.1,"b":-52,"c":"g"},{"x":497,"t":-49.7,"b":-52,"c":"o"},{"x":433,"t":-49.6,"b":-52,"c":"y"},{"x":20,"t":-49.7,"b":-52,"c":"g"},{"x":42,"t":-49.9,"b":-52,"c":"g"},{"x":137,"t":-49.7,"b":-52,"c":"g"},{"x":150,"t":-49.9,"b":-52,"c":"o"},{"x":460,"t":-49.8,"b":-52,"c":"o"},{"x":23,"t":-62,"b":-81.6,"c":"t"},{"x":26,"t":-62,"b":-77.7,"c":"m"},{"x":28,"t":-62,"b":-77.8,"c":"g"},{"x":36,"t":-63,"b":-76.2,"c":"t"},{"x":40,"t":-62,"b":-78,"c":"m"},{"x":43,"t":-62,"b":-78,"c":"g"},{"x":49,"t":-62,"b":-78,"c":"t"},{"x":67,"t":-63,"b":-76.5,"c":"o"},{"x":69,"t":-63,"b":-77.5,"c":"g"},{"x":78,"t":-63,"b":-77.2,"c":"o"},{"x":80,"t":-63,"b":-78,"c":"t"},{"x":90,"t":-63,"b":-75,"c":"g"},{"x":107,"t":-63,"b":-77,"c":"o"},{"x":113,"t":-63,"b":-77,"c":"g"},{"x":122,"t":-62,"b":-77.1,"c":"t"},{"x":130,"t":-63,"b":-75.5,"c":"g"},{"x":138,"t":-61,"b":-77.7,"c":"o"},{"x":156,"t":-63,"b":-75.3,"c":"g"},{"x":175,"t":-64,"b":-74.7,"c":"t"},{"x":188,"t":-63,"b":-74.7,"c":"o"},{"x":196,"t":-62,"b":-76.2,"c":"g"},{"x":205,"t":-62,"b":-76.8,"c":"t"},{"x":215,"t":-61,"b":-78.2,"c":"t"},{"x":220,"t":-63,"b":-75,"c":"o"},{"x":225,"t":-60,"b":-84.7,"c":"y"},{"x":229,"t":-62,"b":-76.5,"c":"g"},{"x":232,"t":-62,"b":-78.2,"c":"t"},{"x":240,"t":-63,"b":-75.6,"c":"g"},{"x":258,"t":-63,"b":-74.5,"c":"t"},{"x":266,"t":-62,"b":-81.2,"c":"g"},{"x":285,"t":-63,"b":-75,"c":"o"},{"x":301,"t":-62,"b":-78.5,"c":"y"},{"x":308,"t":-62,"b":-76.6,"c":"t"},{"x":315,"t":-62,"b":-78.2,"c":"m"},{"x":325,"t":-62,"b":-78,"c":"t"},{"x":333,"t":-63,"b":-77,"c":"g"},{"x":338,"t":-63,"b":-75,"c":"t"},{"x":352,"t":-62,"b":-76,"c":"g"},{"x":357,"t":-62,"b":-77.2,"c":"t"},{"x":362,"t":-62,"b":-78.6,"c":"m"},{"x":368,"t":-63,"b":-77,"c":"o"},{"x":376,"t":-60,"b":-86.3,"c":"g"},{"x":382,"t":-62,"b":-77,"c":"t"},{"x":390,"t":-62,"b":-77.5,"c":"t"},{"x":405,"t":-63,"b":-76.4,"c":"g"},{"x":418,"t":-63,"b":-76,"c":"t"},{"x":426,"t":-63,"b":-76.6,"c":"o"},{"x":444,"t":-62,"b":-77.5,"c":"g"},{"x":454,"t":-60,"b":-81.5,"c":"t"},{"x":456,"t":-63,"b":-75,"c":"g"},{"x":475,"t":-63,"b":-75,"c":"o"},{"x":483,"t":-62,"b":-79,"c":"g"},{"x":486,"t":-62,"b":-79,"c":"t"},{"x":496,"t":-62,"b":-78,"c":"g"},{"x":12,"t":-56,"b":-70,"c":"t"},{"x":38,"t":-55,"b":-68,"c":"t"},{"x":59,"t":-56,"b":-70,"c":"m"},{"x":84,"t":-57,"b":-69,"c":"b"},{"x":118,"t":-56,"b":-70,"c":"m"},{"x":133,"t":-55,"b":-68,"c":"b"},{"x":153,"t":-58,"b":-70,"c":"t"},{"x":178,"t":-57,"b":-68,"c":"m"},{"x":210,"t":-55,"b":-70,"c":"b"},{"x":245,"t":-56,"b":-69,"c":"t"},{"x":258,"t":-54,"b":-70,"c":"b"},{"x":295,"t":-57,"b":-69,"c":"m"},{"x":318,"t":-55,"b":-68,"c":"t"},{"x":354,"t":-59,"b":-68,"c":"b"},{"x":392,"t":-56,"b":-70,"c":"m"},{"x":420,"t":-55,"b":-68,"c":"t"},{"x":449,"t":-57,"b":-70,"c":"m"},{"x":470,"t":-56,"b":-68,"c":"t"},{"x":16,"t":-51,"b":-56,"c":"y"},{"x":74,"t":-51,"b":-56,"c":"y"},{"x":144,"t":-51,"b":-55,"c":"o"},{"x":205,"t":-51,"b":-55,"c":"y"},{"x":270,"t":-51,"b":-55,"c":"o"},{"x":330,"t":-51,"b":-57,"c":"y"},{"x":410,"t":-51,"b":-56,"c":"o"},{"x":478,"t":-51,"b":-55,"c":"y"},{"x":225,"t":-62,"b":-71,"c":"y"},{"x":113,"t":-64,"b":-71,"c":"o"},{"x":360,"t":-62,"b":-70,"c":"o"},{"x":8,"t":-65,"b":-73,"c":"g"},{"x":17,"t":-65,"b":-73,"c":"o"},{"x":33,"t":-65,"b":-73.5,"c":"t"},{"x":54,"t":-65,"b":-72.6,"c":"g"},{"x":62,"t":-65,"b":-73.4,"c":"t"},{"x":74,"t":-65,"b":-73.8,"c":"o"},{"x":85,"t":-65,"b":-74,"c":"g"},{"x":96,"t":-65,"b":-73.4,"c":"t"},{"x":103,"t":-65,"b":-74.4,"c":"o"},{"x":118,"t":-65,"b":-74,"c":"t"},{"x":127,"t":-65,"b":-73.6,"c":"g"},{"x":146,"t":-65,"b":-75,"c":"o"},{"x":160,"t":-65,"b":-75,"c":"g"},{"x":168,"t":-65,"b":-74.5,"c":"t"},{"x":180,"t":-65,"b":-74.4,"c":"g"},{"x":200,"t":-65,"b":-73.4,"c":"o"},{"x":211,"t":-65,"b":-75,"c":"t"},{"x":236,"t":-65,"b":-74.6,"c":"o"},{"x":248,"t":-65,"b":-73.6,"c":"g"},{"x":272,"t":-65,"b":-74,"c":"t"},{"x":280,"t":-65,"b":-74.4,"c":"g"},{"x":292,"t":-65,"b":-73.8,"c":"o"},{"x":320,"t":-65,"b":-74.6,"c":"g"},{"x":344,"t":-65,"b":-74.6,"c":"t"},{"x":372,"t":-65,"b":-75.6,"c":"y"},{"x":398,"t":-65,"b":-74.4,"c":"t"},{"x":412,"t":-65,"b":-74.6,"c":"o"},{"x":435,"t":-65,"b":-74,"c":"g"},{"x":462,"t":-65,"b":-73.6,"c":"t"},{"x":469,"t":-65,"b":-74.4,"c":"o"},{"x":490,"t":-65,"b":-74,"c":"t"}]
},
"vconcat":[
{"hconcat":[
{"width":584,"height":10,"data":{"values":[{"z":1}]},"mark":{"type":"rule","opacity":0},"encoding":{}},
{"width":1142,"height":893,"layer":[
{"data":{"name":"aE"},"mark":{"type":"area","interpolate":"step","color":{"gradient":"linear","x1":0,"y1":0,"x2":0,"y2":1,"stops":[{"offset":0,"color":"#45c585"},{"offset":0.22,"color":"#4ac884"},{"offset":0.35,"color":"#3ac290"},{"offset":0.55,"color":"#2cbd9e"},{"offset":0.75,"color":"#1fb3b4"},{"offset":0.92,"color":"#25b6ac"},{"offset":1,"color":"#3bbd98"}]}},"encoding":{"x":{"field":"x","type":"quantitative","scale":{"domain":[0,499],"nice":false},"axis":{"values":[0,100,200,300,400],"title":"Range cell","labelFontSize":40,"titleFontSize":46}},"y":{"field":"t","type":"quantitative","scale":{"domain":[-51.9,5],"nice":false},"axis":{"values":[0,-10,-20,-30,-40,-50],"title":"Amplitude, dB","labelFontSize":40,"titleFontSize":46,"titlePadding":20}},"y2":{"field":"b"}}},
{"data":{"name":"aS"},"mark":{"type":"rule","strokeWidth":2.4},"encoding":{"x":{"field":"x","type":"quantitative"},"y":{"field":"t","type":"quantitative"},"y2":{"field":"b"},"color":{"field":"c","type":"nominal","legend":null,"scale":{"domain":["t","b","m","g","l","o","y","p"],"range":["#22b8ae","#1fa6c8","#2fbf96","#4cc67c","#8cc84c","#b2bc2e","#dcb428","#8fdc9a"]}}}},
{"data":{"values":[{"x":270.3,"y":-6}]},"mark":{"type":"point","shape":"circle","filled":false,"stroke":"#d01015","strokeWidth":7,"size":7400,"opacity":1},"encoding":{"x":{"field":"x","type":"quantitative"},"y":{"field":"y","type":"quantitative"}}},
{"data":{"values":[{"x":366,"x2":456,"y":-4.16,"y2":-14.9}]},"mark":{"type":"rect","fill":"#f9f9fc","stroke":"#7a7a7a","strokeWidth":2,"cornerRadius":6},"encoding":{"x":{"field":"x","type":"quantitative"},"x2":{"field":"x2"},"y":{"field":"y","type":"quantitative"},"y2":{"field":"y2"}}},
{"data":{"values":[{"x":364.5,"y":-15.1}]},"mark":{"type":"point","shape":"circle","filled":true,"fill":"#151515","stroke":"#ffffff","strokeWidth":1.5,"size":190,"opacity":1},"encoding":{"x":{"field":"x","type":"quantitative"},"y":{"field":"y","type":"quantitative"}}},
{"data":{"values":[{"x":373.3,"y":-7.57,"s":"X"},{"x":373.3,"y":-10.43,"s":"Y"},{"x":373.3,"y":-13.3,"s":"Z"}]},"mark":{"type":"text","font":"Liberation Sans","fontSize":34,"align":"left","baseline":"alphabetic","color":"#4a4a4a"},"encoding":{"x":{"field":"x","type":"quantitative"},"y":{"field":"y","type":"quantitative"},"text":{"field":"s"}}},
{"data":{"values":[{"x":389.6,"y":-7.57,"s":"365"},{"x":389.6,"y":-10.43,"s":"1085"},{"x":388.8,"y":-13.3,"s":"−15.0967"}]},"mark":{"type":"text","font":"Liberation Sans","fontSize":33,"fontWeight":"bold","align":"left","baseline":"alphabetic","color":"#1d8fd8"},"encoding":{"x":{"field":"x","type":"quantitative"},"y":{"field":"y","type":"quantitative"},"text":{"field":"s"}}},
{"data":{"values":[{"x":220.5,"y":-66.6,"s":"("},{"x":253.5,"y":-66.6,"s":")"}]},"mark":{"type":"text","font":"Liberation Serif","fontSize":68,"baseline":"alphabetic","color":"#000000"},"encoding":{"x":{"field":"x","type":"quantitative"},"y":{"field":"y","type":"quantitative"},"text":{"field":"s"}}},
{"data":{"values":[{"x":237,"y":-66.6,"s":"a"}]},"mark":{"type":"text","font":"Liberation Serif","fontSize":68,"fontWeight":"bold","baseline":"alphabetic","color":"#000000"},"encoding":{"x":{"field":"x","type":"quantitative"},"y":{"field":"y","type":"quantitative"},"text":{"field":"s"}}}
]}
],"spacing":0},
{"hconcat":[
{"width":1141,"height":899,"layer":[
{"data":{"name":"bE"},"mark":{"type":"area","interpolate":"step","color":{"gradient":"linear","x1":0,"y1":0,"x2":0,"y2":1,"stops":[{"offset":0,"color":"#b0bc30"},{"offset":0.12,"color":"#a8be34"},{"offset":0.28,"color":"#8cc244"},{"offset":0.45,"color":"#62c668"},{"offset":0.65,"color":"#3fc48a"},{"offset":0.8,"color":"#5cc470"},{"offset":0.93,"color":"#8abe48"},{"offset":1,"color":"#78bc58"}]}},"encoding":{"x":{"field":"x","type":"quantitative","scale":{"domain":[0,499],"nice":false},"axis":{"values":[0,50,100,150,200,250,300,350,400,450],"title":"Range cell"}},"y":{"field":"t","type":"quantitative","scale":{"domain":[-88.1,-41],"nice":false},"axis":{"values":[-45,-50,-55,-60,-65,-70,-75,-80,-85],"title":"Amplitude, dB"}},"y2":{"field":"b"}}},
{"data":{"name":"bS"},"mark":{"type":"rule","strokeWidth":2.4},"encoding":{"x":{"field":"x","type":"quantitative"},"y":{"field":"t","type":"quantitative"},"y2":{"field":"b"},"color":{"field":"c","type":"nominal","legend":null,"scale":{"domain":["t","b","m","g","l","o","y","p"],"range":["#22b8ae","#1fa6c8","#2fbf96","#4cc67c","#8cc84c","#b2bc2e","#dcb428","#8fdc9a"]}}}},
{"data":{"name":"bS"},"transform":[{"filter":"datum.b < -75"}],"mark":{"type":"point","shape":"square","filled":true,"size":14,"color":"#4a78e0","opacity":1},"encoding":{"x":{"field":"x","type":"quantitative"},"y":{"field":"b","type":"quantitative"}}},
{"data":{"values":[{"x":221,"y":-100,"s":"("},{"x":254,"y":-100,"s":")"}]},"mark":{"type":"text","font":"Liberation Serif","fontSize":68,"baseline":"alphabetic","color":"#000000"},"encoding":{"x":{"field":"x","type":"quantitative"},"y":{"field":"y","type":"quantitative"},"text":{"field":"s"}}},
{"data":{"values":[{"x":237.4,"y":-100,"s":"b"}]},"mark":{"type":"text","font":"Liberation Serif","fontSize":68,"fontWeight":"bold","baseline":"alphabetic","color":"#000000"},"encoding":{"x":{"field":"x","type":"quantitative"},"y":{"field":"y","type":"quantitative"},"text":{"field":"s"}}}
]},
{"width":1140,"height":899,"layer":[
{"data":{"name":"cE"},"mark":{"type":"area","interpolate":"step","color":{"gradient":"linear","x1":0,"y1":0,"x2":0,"y2":1,"stops":[{"offset":0,"color":"#dcb42c"},{"offset":0.12,"color":"#c8b830"},{"offset":0.3,"color":"#a0c040"},{"offset":0.5,"color":"#70c460"},{"offset":0.68,"color":"#5ac472"},{"offset":0.82,"color":"#98bc44"},{"offset":1,"color":"#80bc54"}]}},"encoding":{"x":{"field":"x","type":"quantitative","scale":{"domain":[0,499],"nice":false},"axis":{"values":[0,50,100,150,200,250,300,350,400,450],"title":"Range cell"}},"y":{"field":"t","type":"quantitative","scale":{"domain":[-84.7,-40.9],"nice":false},"axis":{"values":[-45,-50,-55,-60,-65,-70,-75,-80],"title":"Amplitude, dB"}},"y2":{"field":"b"}}},
{"data":{"name":"cS"},"mark":{"type":"rule","strokeWidth":2.4},"encoding":{"x":{"field":"x","type":"quantitative"},"y":{"field":"t","type":"quantitative"},"y2":{"field":"b"},"color":{"field":"c","type":"nominal","legend":null,"scale":{"domain":["t","b","m","g","l","o","y","p"],"range":["#22b8ae","#1fa6c8","#2fbf96","#4cc67c","#8cc84c","#b2bc2e","#dcb428","#8fdc9a"]}}}},
{"data":{"name":"cS"},"transform":[{"filter":"datum.b < -73"}],"mark":{"type":"point","shape":"square","filled":true,"size":14,"color":"#4a78e0","opacity":1},"encoding":{"x":{"field":"x","type":"quantitative"},"y":{"field":"b","type":"quantitative"}}},
{"data":{"values":[{"x":221.2,"y":-95.8,"s":"("},{"x":254,"y":-95.8,"s":")"}]},"mark":{"type":"text","font":"Liberation Serif","fontSize":68,"baseline":"alphabetic","color":"#000000"},"encoding":{"x":{"field":"x","type":"quantitative"},"y":{"field":"y","type":"quantitative"},"text":{"field":"s"}}},
{"data":{"values":[{"x":237.6,"y":-95.8,"s":"c"}]},"mark":{"type":"text","font":"Liberation Serif","fontSize":68,"fontWeight":"bold","baseline":"alphabetic","color":"#000000"},"encoding":{"x":{"field":"x","type":"quantitative"},"y":{"field":"y","type":"quantitative"},"text":{"field":"s"}}}
]}
],"spacing":200},
{"hconcat":[
{"width":1141,"height":899,"layer":[
{"data":{"name":"dE"},"mark":{"type":"area","interpolate":"step","color":{"gradient":"linear","x1":0,"y1":0,"x2":0,"y2":1,"stops":[{"offset":0,"color":"#b8bc2e"},{"offset":0.12,"color":"#acbe32"},{"offset":0.28,"color":"#8cc244"},{"offset":0.45,"color":"#60c668"},{"offset":0.65,"color":"#40c488"},{"offset":0.8,"color":"#70c260"},{"offset":0.92,"color":"#96bc44"},{"offset":1,"color":"#7cbc56"}]}},"encoding":{"x":{"field":"x","type":"quantitative","scale":{"domain":[0,499],"nice":false},"axis":{"values":[0,50,100,150,200,250,300,350,400,450],"title":"Range cell"}},"y":{"field":"t","type":"quantitative","scale":{"domain":[-86.3,-40.9],"nice":false},"axis":{"values":[-45,-50,-55,-60,-65,-70,-75,-80,-85],"title":"Amplitude, dB"}},"y2":{"field":"b"}}},
{"data":{"name":"dS"},"mark":{"type":"rule","strokeWidth":2.4},"encoding":{"x":{"field":"x","type":"quantitative"},"y":{"field":"t","type":"quantitative"},"y2":{"field":"b"},"color":{"field":"c","type":"nominal","legend":null,"scale":{"domain":["t","b","m","g","l","o","y","p"],"range":["#22b8ae","#1fa6c8","#2fbf96","#4cc67c","#8cc84c","#b2bc2e","#dcb428","#8fdc9a"]}}}},
{"data":{"name":"dS"},"transform":[{"filter":"datum.b < -75"}],"mark":{"type":"point","shape":"square","filled":true,"size":14,"color":"#4a78e0","opacity":1},"encoding":{"x":{"field":"x","type":"quantitative"},"y":{"field":"b","type":"quantitative"}}},
{"data":{"values":[{"x":221,"y":-98,"s":"("},{"x":254,"y":-98,"s":")"}]},"mark":{"type":"text","font":"Liberation Serif","fontSize":68,"baseline":"alphabetic","color":"#000000"},"encoding":{"x":{"field":"x","type":"quantitative"},"y":{"field":"y","type":"quantitative"},"text":{"field":"s"}}},
{"data":{"values":[{"x":237.4,"y":-98,"s":"d"}]},"mark":{"type":"text","font":"Liberation Serif","fontSize":68,"fontWeight":"bold","baseline":"alphabetic","color":"#000000"},"encoding":{"x":{"field":"x","type":"quantitative"},"y":{"field":"y","type":"quantitative"},"text":{"field":"s"}}}
]},
{"width":1140,"height":899,"layer":[
{"data":{"name":"bE"},"mark":{"type":"area","interpolate":"step","color":{"gradient":"linear","x1":0,"y1":0,"x2":0,"y2":1,"stops":[{"offset":0,"color":"#b0bc30"},{"offset":0.12,"color":"#a8be34"},{"offset":0.28,"color":"#8cc244"},{"offset":0.45,"color":"#62c668"},{"offset":0.65,"color":"#3fc48a"},{"offset":0.8,"color":"#5cc470"},{"offset":0.93,"color":"#8abe48"},{"offset":1,"color":"#78bc58"}]}},"encoding":{"x":{"field":"x","type":"quantitative","scale":{"domain":[0,499],"nice":false},"axis":{"values":[0,50,100,150,200,250,300,350,400,450],"title":"Range cell"}},"y":{"field":"t","type":"quantitative","scale":{"domain":[-88.1,-40.9],"nice":false},"axis":{"values":[-45,-50,-55,-60,-65,-70,-75,-80,-85],"title":"Amplitude, dB"}},"y2":{"field":"b"}}},
{"data":{"name":"bS"},"mark":{"type":"rule","strokeWidth":2.4},"encoding":{"x":{"field":"x","type":"quantitative"},"y":{"field":"t","type":"quantitative"},"y2":{"field":"b"},"color":{"field":"c","type":"nominal","legend":null,"scale":{"domain":["t","b","m","g","l","o","y","p"],"range":["#22b8ae","#1fa6c8","#2fbf96","#4cc67c","#8cc84c","#b2bc2e","#dcb428","#8fdc9a"]}}}},
{"data":{"name":"bS"},"transform":[{"filter":"datum.b < -75"}],"mark":{"type":"point","shape":"square","filled":true,"size":14,"color":"#4a78e0","opacity":1},"encoding":{"x":{"field":"x","type":"quantitative"},"y":{"field":"b","type":"quantitative"}}},
{"data":{"values":[{"x":221.2,"y":-100.1,"s":"("},{"x":254,"y":-100.1,"s":")"}]},"mark":{"type":"text","font":"Liberation Serif","fontSize":68,"baseline":"alphabetic","color":"#000000"},"encoding":{"x":{"field":"x","type":"quantitative"},"y":{"field":"y","type":"quantitative"},"text":{"field":"s"}}},
{"data":{"values":[{"x":237.6,"y":-100.1,"s":"e"}]},"mark":{"type":"text","font":"Liberation Serif","fontSize":68,"fontWeight":"bold","baseline":"alphabetic","color":"#000000"},"encoding":{"x":{"field":"x","type":"quantitative"},"y":{"field":"y","type":"quantitative"},"text":{"field":"s"}}}
]}
],"spacing":200}
],"spacing":114}
